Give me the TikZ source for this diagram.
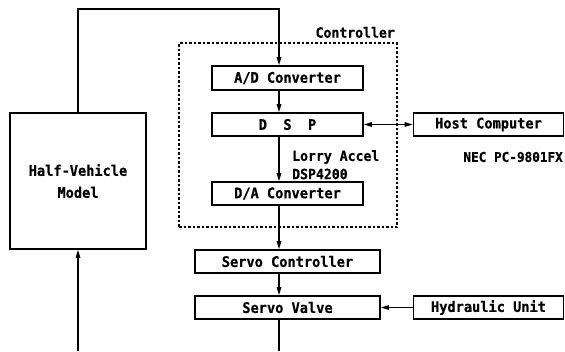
\documentclass[tikz,border=0pt]{standalone}
\usepackage{fontspec}
\setmainfont{DejaVu Sans Mono}[FakeStretch=0.94,
  BoldFeatures={FakeStretch=0.94, FakeBold=0.6}]
\usetikzlibrary{arrows.meta}
\begin{document}
\begin{tikzpicture}[x=1pt,y=-1pt,
  blk/.style={draw, line width=1.6pt, rectangle, inner sep=0pt,
    font=\fontsize{14.5}{16}\selectfont\bfseries},
  lbl/.style={inner sep=0pt, font=\fontsize{14}{16}\selectfont\bfseries},
  conn/.style={line width=1.2pt, -{Triangle[length=8pt,width=4.5pt]}},
  both/.style={line width=1.2pt, {Triangle[length=8pt,width=4.5pt]}-{Triangle[length=8pt,width=4.5pt]}},
  wire/.style={line width=1.2pt},
  grp/.style={draw, line width=1.2pt, dash pattern=on 2.5pt off 2pt},
]
\useasboundingbox (0,0) rectangle (565,351);

% plant model
\node[blk, minimum width=136pt, minimum height=136pt, align=center] (hv) at (78,181)
  {Half-Vehicle\\[6pt]Model};

% controller group
\node[grp, minimum width=218pt, minimum height=184pt] (ctrl) at (288,135) {};
\node[lbl, anchor=south east] (ctrltxt) at (395,38) {Controller};

\node[blk, minimum width=151pt, minimum height=24pt] (ad)  at (287.5,78)    {A/D Converter};
\node[blk, minimum width=151pt, minimum height=23pt] (dsp) at (287.5,124.5) {D~~S~~P};
\node[blk, minimum width=151pt, minimum height=23pt] (da)  at (287.5,193.5) {D/A Converter};

\node[lbl, anchor=west] (lorry) at (292,157) {Lorry Accel};
\node[lbl, anchor=west] (chip)  at (292,174) {DSP4200};

% actuator chain
\node[blk, minimum width=185pt, minimum height=23pt] (sc) at (287.5,261.5) {Servo Controller};
\node[blk, minimum width=185pt, minimum height=23pt] (sv) at (287.5,307.5) {Servo Valve};

% peripherals
\node[blk, minimum width=150pt, minimum height=23pt] (host) at (488.5,124.5) {Host Computer};
\node[lbl, anchor=east, font=\fontsize{13.5}{16}\selectfont\bfseries] (nec) at (563,157) {NEC PC-9801FX};
\node[blk, minimum width=150pt, minimum height=23pt] (hyd) at (488.5,307.5) {Hydraulic Unit};

% signal spine and loose ends
\coordinate (spine) at (279,9);
\coordinate (hvtop) at (78,9);
\coordinate (svout) at (279,351);
\coordinate (hvin) at (78,351);

\draw[conn] (hv.north -| hvtop) -- (hvtop) -- (spine) -- (ad.north -| spine);
\draw[conn] (ad.south -| spine) -- (dsp.north -| spine);
\draw[conn] (dsp.south -| spine) -- (da.north -| spine);
\draw[conn] (da.south -| spine) -- (sc.north -| spine);
\draw[conn] (sc.south -| spine) -- (sv.north -| spine);
\draw[wire] (sv.south -| spine) -- (svout);
\draw[conn] (hvin) -- (hv.south -| hvin);
\draw[both] (dsp.east) -- (host.west);
\draw[conn] (hyd.west) -- (sv.east);
\end{tikzpicture}
\end{document}
